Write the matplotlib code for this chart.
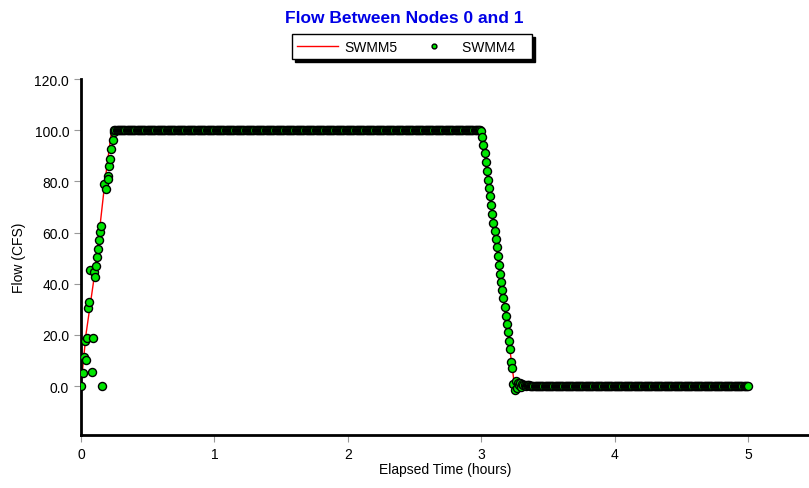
import numpy as np
import matplotlib
matplotlib.use('Agg')
import matplotlib.pyplot as plt

plt.rcParams['font.family'] = ['Liberation Sans', 'DejaVu Sans']

# SWMM5 line vertices (hours, CFS)
swmm5_t = [0.0, 0.037, 0.092, 0.137, 0.18, 0.23, 0.25, 3.0, 3.233, 3.25, 5.0]
swmm5_q = [0.0, 20.0, 40.0, 60.0, 80.0, 100.0, 100.0, 100.0, 7.0, 0.0, 0.0]

# SWMM4 points - rising limb
rise_t = [0.0, 0.013, 0.022, 0.03, 0.035, 0.042, 0.052, 0.062, 0.067, 0.08,
          0.087, 0.097, 0.107, 0.115, 0.12, 0.125, 0.135, 0.142, 0.152, 0.16,
          0.17, 0.19, 0.2, 0.202, 0.21, 0.217, 0.227, 0.237, 0.247]
rise_q = [0.0, 5.0, 11.2, 17.7, 10.3, 18.6, 30.3, 32.7, 45.3, 5.4,
          18.6, 44.4, 42.5, 47.0, 50.3, 53.5, 57.0, 60.3, 62.4, 0.0,
          78.9, 77.0, 82.1, 80.9, 86.0, 88.7, 92.6, 96.1, 99.1]
# plateau, 30 s steps from 0.25 h to 3.0 h
plateau_t = np.arange(30, 360) / 120
plateau_q = [100.0] * len(plateau_t)
# falling limb, 30 s steps from 3.0 h
fall_t = np.arange(360, 389) / 120
fall_q = [99.7, 97.5, 94.1, 90.9, 87.4, 83.9, 80.5, 77.3, 74.1, 70.7,
          67.3, 63.9, 60.5, 57.4, 54.3, 50.9, 47.4, 43.9, 40.5, 37.5,
          34.3, 30.9, 27.5, 24.2, 21.0, 17.7, 14.5, 9.3, 6.9]
# tail to 5 h
tail_t = np.arange(389, 601) / 120
tail_q = [0.8, -1.5, 1.8, -0.8, 1.2, 0.4, 1.0, -0.3, 0.7, 0.2,
          0.5, 0.1, 0.4, 0.2, 0.3, 0.1] + [0.0] * (len(tail_t) - 16)

swmm4_t = np.concatenate([rise_t, plateau_t, fall_t, tail_t])
swmm4_q = np.concatenate([rise_q, plateau_q, fall_q, tail_q])

fig = plt.figure(figsize=(8.09, 4.89), dpi=100)
ax = fig.add_axes([0.1001, 0.1084, 0.8999, 0.728])

ax.plot(swmm5_t, swmm5_q, color='red', lw=1.0, label='SWMM5', zorder=2)
ax.plot(swmm4_t, swmm4_q, ls='none', marker='o', ms=5.8, mfc='#00e600',
        mec='black', mew=1.0, label='SWMM4   ', zorder=3)

ax.set_xlim(0, 5.457)
ax.set_ylim(-19.15, 120)
ax.set_xticks([0, 1, 2, 3, 4, 5])
ax.set_yticks([0, 20, 40, 60, 80, 100, 120])
ax.set_yticklabels(['%.1f' % v for v in [0, 20, 40, 60, 80, 100, 120]])
ax.tick_params(direction='out', length=5, width=0.8, color='#999999',
               labelsize=10, labelcolor='black')
for s in ['top', 'right']:
    ax.spines[s].set_visible(False)
for s in ['left', 'bottom']:
    ax.spines[s].set_linewidth(2)
ax.set_xlabel('Elapsed Time (hours)', fontsize=10, labelpad=1)
ax.set_ylabel('Flow (CFS)', fontsize=10, labelpad=6)

fig.text(0.5, 0.963, 'Flow Between Nodes 0 and 1', ha='center', va='center',
         fontsize=12.5, fontweight='bold', color='#0000e6')

leg = fig.legend(loc='center', bbox_to_anchor=(0.509, 0.902), ncol=2,
                 fontsize=10, frameon=True, fancybox=False,
                 shadow={'color': 'black', 'alpha': 1}, markerscale=0.6,
                 handlelength=2.9, columnspacing=1.2, borderpad=0.4,
                 handletextpad=0.5, borderaxespad=0)
leg.get_frame().set_edgecolor('black')
leg.get_frame().set_linewidth(1)

fig.savefig('out.png', dpi=100)
